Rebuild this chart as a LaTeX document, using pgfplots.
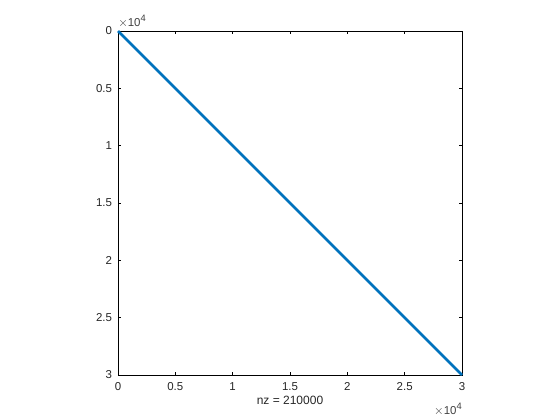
\documentclass[border=0pt]{standalone}
\usepackage{pgfplots}
\pgfplotsset{compat=1.18}
\usepackage{fontspec}
\setmainfont{Liberation Sans}
\definecolor{mblue}{rgb}{0,0.447,0.741}
\newcommand{\tenfour}{{\fontsize{8.6}{9}\selectfont$\times$10\raisebox{3.4pt}{\fontsize{7}{7}\selectfont 4}}}
\begin{document}
\begin{tikzpicture}
\path[use as bounding box] (0,0) rectangle (420pt,315pt);
\begin{axis}[
  at={(88.5pt,33.75pt)}, anchor=south west,
  scale only axis, width=258pt, height=258pt,
  xmin=0, xmax=30000, ymin=0, ymax=30000,
  y dir=reverse,
  xtick={0,5000,10000,15000,20000,25000,30000},
  ytick={0,5000,10000,15000,20000,25000,30000},
  xticklabels={0,0.5,1,1.5,2,2.5,3},
  yticklabels={0,0.5,1,1.5,2,2.5,3},
  scaled ticks=false,
  tick align=inside,
  major tick length=2.6pt,
  tick style={black, line width=0.4pt},
  axis line style={black, line width=0.5pt},
  ticklabel style={font=\fontsize{8.6}{9}\selectfont, text=black!85},
  xticklabel style={yshift=-2pt},
  yticklabel style={xshift=-1pt},
  xlabel={nz = 210000},
  xlabel style={font=\fontsize{9}{10}\selectfont, text=black!85, yshift=3pt},
  clip=false,
]
\addplot[mblue, line width=1.9pt] coordinates {(1,1) (30000,30000)};
\node[anchor=south west, text=black!75, inner sep=0pt] at (axis description cs:0,1) [yshift=2.5pt] {\tenfour};
\node[anchor=north east, text=black!75, inner sep=0pt] at (axis description cs:1,0) [yshift=-21pt] {\tenfour};
\end{axis}
\end{tikzpicture}
\end{document}
